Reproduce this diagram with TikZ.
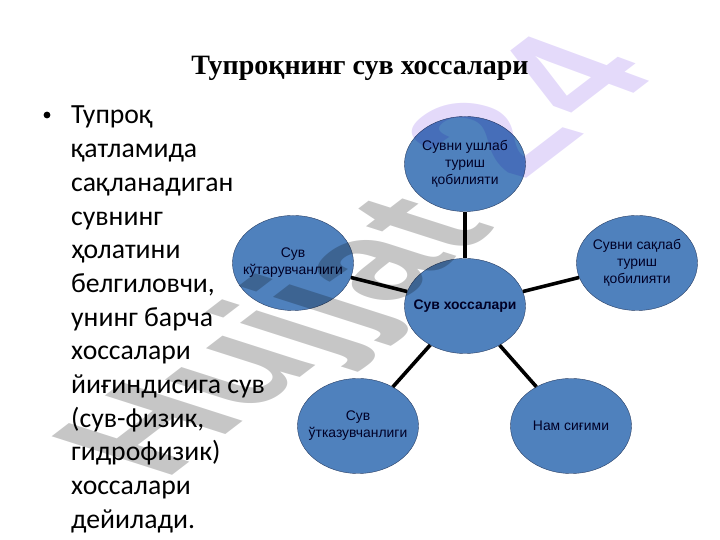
\documentclass[tikz,border=0pt]{standalone}
\usepackage{fontspec}
\setmainfont{Liberation Sans}
\newfontfamily\bodyfont{Carlito}
\newfontfamily\titlefont{Liberation Serif}
\usetikzlibrary{shapes.geometric}
\definecolor{soilblue}{RGB}{79,129,189}
\definecolor{soiledge}{RGB}{40,62,100}
\definecolor{markgray}{RGB}{198,198,198}
\definecolor{markviolet}{RGB}{228,218,250}
\tikzset{
  prop/.style={ellipse, draw=soiledge, fill=soilblue, minimum width=121pt, minimum height=95pt, inner sep=-16pt, align=center, font=\fontsize{13.9}{17}\selectfont, text=black!85!blue},
  spoke/.style={line width=3.6pt},
  markfont/.style={transform shape, anchor=base west, inner sep=0pt, font=\bfseries\fontsize{170}{170}\selectfont}
}
\begin{document}
\begin{tikzpicture}[x=1pt,y=1pt]
            \useasboundingbox (0,0) rectangle (720,540);
            \node[font=\titlefont\bfseries\fontsize{28}{32}\selectfont] (title) at (360,472) {Тупроқнинг сув хоссалари};
            \node[font=\bodyfont\fontsize{27.7}{33.7}\selectfont, anchor=north west, align=left, inner sep=0pt] (body) at (71,434) {Тупроқ\\қатламида\\сақланадиган\\сувнинг\\ҳолатини\\белгиловчи,\\унинг барча\\хоссалари\\йиғиндисига сув\\(сув-физик,\\гидрофизик)\\хоссалари\\дейилади.};
            \node[circle, fill, inner sep=2.4pt] (dot) at (47,425) {};

            \node[prop, font=\bfseries\fontsize{13.9}{17}\selectfont] (c) at (465,234) {Сув хоссалари};
            \node[prop] (p1) at (465,376) {Сувни ушлаб\\туриш\\қобилияти};
            \node[prop] (p2) at (637,277) {Сувни сақлаб\\туриш\\қобилияти};
            \node[prop] (p3) at (571,114) {Нам сиғими};
            \node[prop] (p4) at (358,114) {Сув\\ўтказувчанлиги};
            \node[prop] (p5) at (293,277) {Сув\\кўтарувчанлиги};
            \draw[spoke] (c) -- (p1);
            \draw[spoke] (c) -- (p2);
            \draw[spoke] (c) -- (p3);
            \draw[spoke] (c) -- (p4);
            \draw[spoke] (c) -- (p5);

            \begin{scope}[blend mode=multiply, cm={.706,.541,-1.03,.33,(164,58)}]
            \node[markfont, text=markgray] (mark) at (0,0) {Hujjat};
            \end{scope}
            \begin{scope}[blend mode=multiply, cm={.706,.541,-1.12,.33,(522,358)}]
            \node[markfont, text=markviolet] (marktwo) at (0,0) {2};
            \end{scope}
            \begin{scope}[blend mode=multiply, cm={.706,.541,-1.03,.38,(594,416)}]
            \node[markfont, text=markviolet] (markfour) at (0,0) {4};
            \end{scope}
        \end{tikzpicture}
\end{document}
